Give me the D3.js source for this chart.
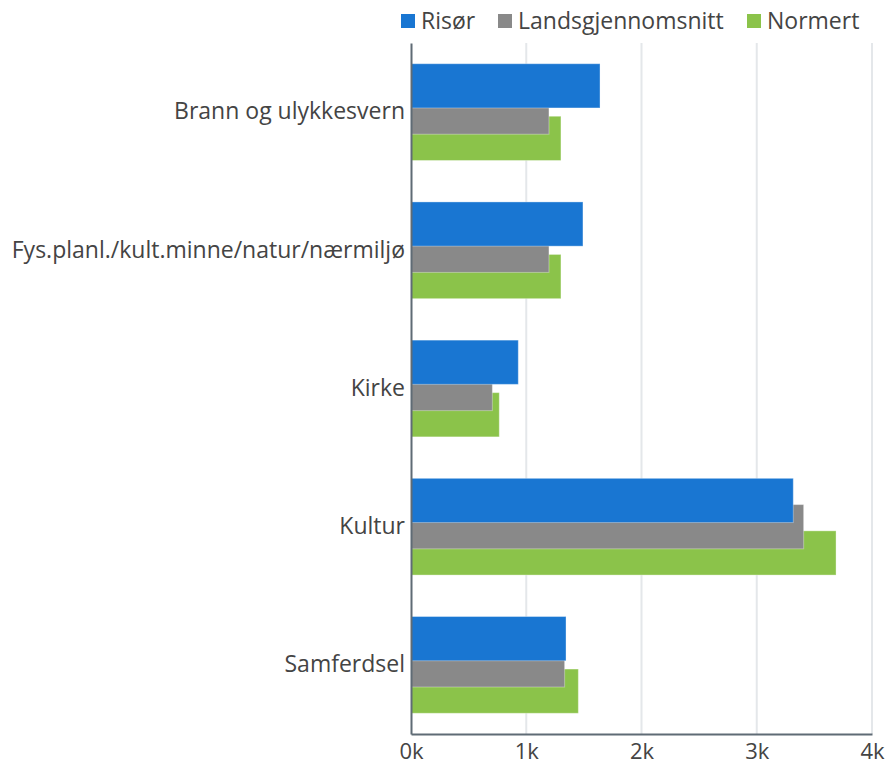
<!DOCTYPE html>
<html lang="no">
<head>
    <meta charset="UTF-8">
    <title>Risør</title>
    <script src="https://cdn.jsdelivr.net/npm/d3@7"></script>
    <style>
        body { margin: 0; background: #fff; }
        text { font-family: "Open Sans", sans-serif; }
    </style>
</head>
<body>
<div id="chart"></div>
<script>
    const categories = ["Brann og ulykkesvern", "Fys.planl./kult.minne/natur/nærmiljø", "Kirke", "Kultur", "Samferdsel"];
    const seriesNames = ["Risør", "Landsgjennomsnitt", "Normert"];
    const risor = [1640, 1492, 931, 3317, 1345];
    const landsgjennomsnitt = [1197, 1197, 706, 3407, 1333];
    const normert = [1301, 1301, 766, 3688, 1452];
    const xTicks = [0, 1000, 2000, 3000, 4000];
    const colors = ["#1976d2", "#898989", "#8bc34a"];

    const W = 886, H = 765;
    const margin = {top: 43, right: 14, bottom: 31, left: 411};
    const width = W - margin.left - margin.right,
        height = H - margin.top - margin.bottom;
    const fontSize = "23px";

    const series = [risor, landsgjennomsnitt, normert].map((vals, i) => ({
        name: seriesNames[i], color: colors[i], values: vals
    }));

    const svg = d3.select("#chart").append("svg")
        .attr("width", W)
        .attr("height", H);

    const g = svg.append("g")
        .attr("transform", "translate(" + margin.left + "," + margin.top + ")");

    const x = d3.scaleLinear().domain([0, 4000]).range([0, width]);
    const y = d3.scaleBand().domain(categories).range([0, height]);

    // overlapping bars: each bar ~0.32 of band, shifted 0.19 band per series
    const barH = y.bandwidth() * 0.32;
    const shift = y.bandwidth() * 0.19;

    // grid
    g.append("g")
        .selectAll("line")
        .data(xTicks.slice(1))
        .enter().append("line")
        .attr("x1", d => x(d)).attr("x2", d => x(d))
        .attr("y1", 0).attr("y2", height)
        .attr("stroke", "#e4e7ea")
        .attr("stroke-width", 2);

    // bars, drawn last series first so Risør ends on top
    series.slice().reverse().forEach(s => {
        const i = series.indexOf(s);
        g.append("g").selectAll("rect")
            .data(s.values)
            .enter().append("rect")
            .attr("x", x(0))
            .attr("y", (d, j) => y(categories[j]) + y.bandwidth() / 2 + (i - 1) * shift - barH / 2)
            .attr("width", d => x(d) - x(0))
            .attr("height", barH)
            .attr("fill", s.color)
            .attr("stroke", "rgba(255,255,255,0.35)")
            .attr("stroke-width", 1);
    });

    // x axis
    const xAxis = g.append("g")
        .attr("transform", "translate(0," + height + ")")
        .call(d3.axisBottom(x).tickValues(xTicks).tickSize(0).tickPadding(9)
            .tickFormat(d => (d / 1000) + "k"));
    xAxis.select(".domain").attr("stroke", "#5f6b75").attr("stroke-width", 2);
    xAxis.selectAll(".tick text")
        .attr("fill", "#444")
        .attr("font-size", "22px")
        .attr("font-family", "Open Sans, sans-serif");

    // y axis
    const yAxis = g.append("g")
        .call(d3.axisLeft(y).tickSize(0).tickPadding(6));
    yAxis.select(".domain").attr("stroke", "#5f6b75").attr("stroke-width", 2);
    yAxis.selectAll(".tick text")
        .attr("fill", "#444")
        .attr("font-size", fontSize)
        .attr("font-family", "Open Sans, sans-serif");

    // legend
    const legendItems = [
        {x: 401, label: seriesNames[0], color: colors[0]},
        {x: 498, label: seriesNames[1], color: colors[1]},
        {x: 747, label: seriesNames[2], color: colors[2]}
    ];
    const legend = svg.append("g");
    legendItems.forEach(d => {
        legend.append("rect")
            .attr("x", d.x).attr("y", 14)
            .attr("width", 14).attr("height", 14)
            .attr("fill", d.color);
        legend.append("text")
            .attr("x", d.x + 20).attr("y", 29)
            .attr("font-size", fontSize)
            .attr("fill", "#444")
            .text(d.label);
    });
</script>
</body>
</html>
